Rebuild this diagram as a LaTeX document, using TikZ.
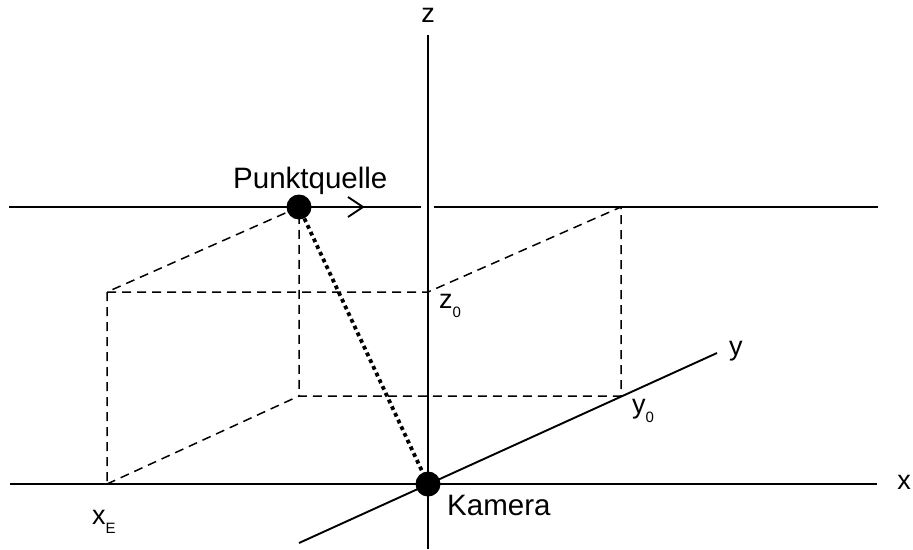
\documentclass[tikz,border=0pt]{standalone}
\usepackage{fontspec}
\setmainfont{Liberation Sans}
\newcommand{\subtxt}[1]{\raisebox{-0.35em}{\fontsize{15}{15}\selectfont #1}}
\begin{document}
\begin{tikzpicture}[x=1pt,y=-1pt,
  axisline/.style={line width=1.9pt},
  topline/.style={line width=2.6pt},
  boxline/.style={line width=1.5pt, dash pattern=on 9pt off 6pt},
  rayline/.style={line width=3.8pt, dash pattern=on 3.8pt off 3.6pt},
  dot/.style={circle, fill=black, minimum size=25pt, inner sep=0pt},
  lbl/.style={font=\fontsize{27}{30}\selectfont, inner sep=0pt},
  wlbl/.style={font=\fontsize{29.5}{32}\selectfont, inner sep=0pt}]
\useasboundingbox (0,0) rectangle (913,549);
% coordinates
\coordinate (zt) at (428,35);
\coordinate (zb) at (428,549);
\coordinate (xl) at (10,484);
\coordinate (xr) at (877,484);
\coordinate (yl) at (299,543);
\coordinate (yr) at (717,353);
\coordinate (tl) at (9,207);
\coordinate (tg1) at (421,207);
\coordinate (tg2) at (434,207);
\coordinate (tr) at (878,207);
\coordinate (A) at (107,292);
\coordinate (B) at (107,484);
\coordinate (C) at (299,207);
\coordinate (D) at (299,396);
\coordinate (E) at (428,292);
\coordinate (F) at (621,207);
\coordinate (G) at (621,396);
\coordinate (ar1) at (348,197);
\coordinate (ar2) at (363,207);
\coordinate (ar3) at (348,217);
% dashed box
\draw[boxline] (C) -- (A) -- (B);
\draw[boxline] (A) -- (E) -- (F) -- (G) -- (D) -- (C);
\draw[boxline] (B) -- (D);
% axes
\draw[axisline] (zt) -- (zb);
\draw[axisline] (xl) -- (xr);
\draw[axisline] (yl) -- (yr);
% top line with gap
\draw[topline] (tl) -- (tg1);
\draw[topline] (tg2) -- (tr);
\draw[line width=1.9pt] (ar1) -- (ar2) -- (ar3);
% dots
\node[dot] (src) at (C) {};
\node[dot] (cam) at (428,484) {};
\draw[rayline] (src) -- (cam);
% labels
\node[lbl, anchor=base] (lz) at (428,22) {z};
\node[lbl, anchor=base] (lx) at (904,489) {x};
\node[lbl, anchor=base west] (ly) at (729,355) {y};
\node[wlbl, anchor=base west] (lsrc) at (233,188) {Punktquelle};
\node[wlbl, anchor=base west] (lcam) at (447,515) {Kamera};
\node[lbl, anchor=base west] (lz0) at (439,308) {z\subtxt{0}};
\node[lbl, anchor=base west] (ly0) at (632,413) {y\subtxt{0}};
\node[lbl, anchor=base west] (lxE) at (92,524) {x\subtxt{E}};
\end{tikzpicture}
\end{document}
